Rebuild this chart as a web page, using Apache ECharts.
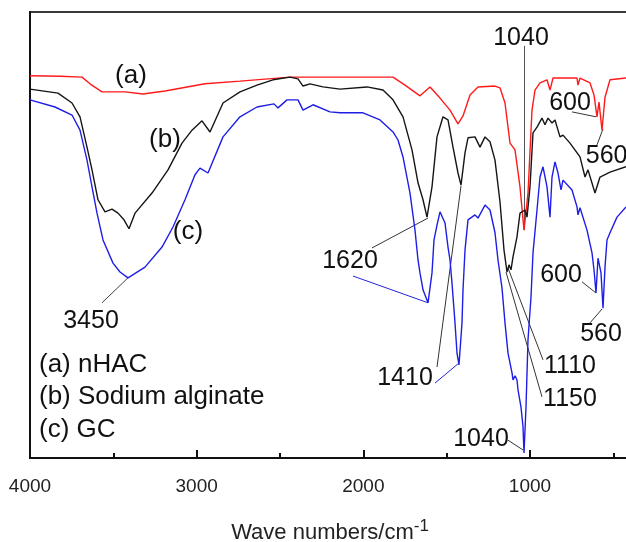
<!DOCTYPE html>
<html>
<head>
<meta charset="utf-8">
<title>FTIR spectra</title>
<script src="https://cdn.jsdelivr.net/npm/echarts@6/dist/echarts.min.js"></script>
<style>
  html, body { margin: 0; padding: 0; background: #fff; }
  #chart { width: 626px; height: 542px; }
</style>
</head>
<body>
<div id="chart"></div>
<script>
// (a) nHAC
const waveA = [4000,3820,3688,3640,3568,3430,3322,3190,2950,2740,
  2440,2140,1822,1750,1660,1600,1540,1480,1432,1402,
  1360,1312,1210,1180,1150,1120,1090,1060,1036,1012,
  988,970,940,898,880,862,718,712,700,640,
  616,598,586,568,550,520,424];
const transA = [85.7,85.6,85.4,83.9,82.1,82.1,81.6,82.3,83.9,84.5,
  85.4,85.4,85.4,83.6,81.2,83.2,80.7,78.0,74.9,76.7,
  81.4,83.2,83.4,83.0,79.6,70.6,69.1,60.8,51.1,59.4,
  78.0,82.5,84.1,84.8,82.5,85.2,85.2,83.6,85.2,84.1,
  81.4,76.5,79.8,73.5,80.9,84.8,85.2];

// (b) Sodium alginate
const waveB = [4000,3832,3748,3700,3658,3628,3592,3550,3508,3472,
  3436,3406,3370,3268,3172,3088,3028,2968,2920,2842,
  2740,2638,2542,2440,2392,2362,2320,2242,2140,1978,
  1882,1822,1762,1708,1672,1642,1618,1588,1558,1522,
  1492,1462,1432,1414,1390,1372,1330,1300,1270,1240,
  1210,1180,1156,1138,1126,1114,1102,1078,1060,1030,
  1018,1000,982,958,928,910,892,868,850,820,
  802,760,700,670,652,610,580,520,424];
const transB = [82.7,81.8,79.6,76.5,69.7,64.6,57.9,55.2,55.8,54.9,
  53.4,51.4,54.9,59.4,64.6,70.6,73.5,75.6,73.1,79.6,
  82.1,83.6,84.8,85.4,85.0,83.4,83.9,83.2,82.7,83.2,
  82.5,80.3,76.5,69.1,61.7,57.9,54.0,60.8,72.0,76.5,
  75.8,69.7,63.9,61.2,68.4,71.8,72.0,69.7,72.0,70.9,
  66.8,57.4,46.6,41.7,43.3,42.2,45.1,49.6,54.9,55.6,
  54.0,60.8,72.9,74.2,76.2,74.7,76.2,75.1,75.8,72.0,
  72.4,70.6,67.5,63.0,64.6,59.4,63.0,64.1,65.3];

// (c) GC
const waveC = [4000,3850,3748,3700,3658,3628,3598,3562,3502,3460,
  3412,3310,3208,3142,3070,3010,2980,2932,2842,2740,
  2638,2536,2512,2458,2392,2362,2302,2200,2140,2002,
  1900,1822,1792,1762,1720,1690,1672,1660,1642,1612,
  1588,1576,1558,1540,1510,1492,1480,1468,1450,1438,
  1426,1408,1402,1390,1372,1330,1312,1270,1240,1210,
  1192,1168,1150,1132,1108,1102,1090,1078,1072,1054,
  1042,1036,1024,1012,994,982,958,940,922,898,
  880,868,850,832,814,802,748,718,712,700,
  658,628,616,604,592,574,562,550,538,520,
  478,424];
const transC = [80.3,78.7,76.9,73.5,66.8,60.8,54.9,48.9,43.7,41.7,
  40.4,42.8,47.3,51.8,57.9,63.5,65.0,63.9,72.0,76.5,
  78.7,79.4,78.5,80.3,80.3,78.0,79.2,77.6,77.4,77.4,
  75.8,73.1,71.3,67.5,59.4,51.1,44.4,41.5,37.7,34.8,
  41.5,48.9,52.2,55.2,52.7,47.3,44.4,39.2,30.3,23.5,
  20.9,30.3,37.7,46.6,53.4,54.5,53.8,56.7,55.6,50.5,
  44.4,38.1,30.3,23.5,19.1,17.5,18.4,17.5,15.3,11.4,
  7.0,1.1,11.4,26.5,36.1,46.0,55.6,63.0,65.3,60.8,
  54.0,63.0,66.4,63.9,60.1,62.3,60.1,56.3,54.5,56.1,
  51.1,46.0,42.2,37.0,44.8,41.5,33.6,42.8,48.9,50.5,
  54.0,56.3];

const majorTicks = [4000, 3000, 2000, 1000];
const minorTicks = [3500, 2500, 1500, 500];

// peak labels, placed in data units (wave number, transmittance)
const noteText = ['(a)', '(b)', '(c)', '3450', '1620', '1410', '1110', '1150', '1040', '1040', '600', '560', '600', '560'];
const noteWave = [3394, 3190, 3052, 3634, 2080, 1750, 760, 760, 1054, 1294, 760, 540, 814, 574];
const noteT = [85.6, 71.3, 50.7, 30.7, 44.2, 17.9, 20.6, 13.2, 94.2, 4.3, 79.6, 67.7, 41.0, 27.8];

const legendText = ['(a) nHAC', '(b) Sodium alginate', '(c) GC'];
const legendT = [20.9, 13.7, 6.3];

// leader lines: [wave1, t1, wave2, t2, colour]
const leaders = [
  [3412, 40.4, 3568, 34.8, '#444'],
  [1948, 47.1, 1612, 53.8, '#333'],
  [2062, 40.8, 1612, 34.8, '#2222dd'],
  [1558, 20.4, 1414, 61.0, '#333'],
  [1570, 16.8, 1426, 21.3, '#2222dd'],
  [922, 22.0, 1132, 42.6, '#333'],
  [928, 13.7, 1144, 41.7, '#333'],
  [1036, 92.4, 1036, 51.1, '#555'],
  [1132, 4.0, 1042, 1.8, '#333'],
  [748, 77.6, 604, 76.5, '#333'],
  [598, 70.2, 562, 73.8, '#333'],
  [688, 39.5, 604, 37.0, '#333'],
  [640, 30.3, 568, 33.4, '#333']
];

const font = 'Liberation Sans, Arial, sans-serif';
const zip = (xs, ys) => xs.map((x, i) => [x, ys[i]]);

const chart = echarts.init(document.getElementById('chart'));

const textData = noteText.map((t, i) => ({
  name: t,
  value: [noteWave[i], noteT[i]],
  label: { fontSize: t.charAt(0) === '(' ? 26 : 25 }
}));
legendText.forEach((t, i) => {
  textData.push({
    name: t,
    value: [3946, legendT[i]],
    label: { fontSize: 26, align: 'left' }
  });
});

const option = {
  animation: false,
  grid: {
    left: 30, right: -4, top: 12, bottom: 84,
    outerBoundsMode: 'none',
    containLabel: false,
    show: true, borderColor: '#3a3a3a', borderWidth: 2
  },
  xAxis: [{
    type: 'value',
    min: 400,
    max: 4000,
    inverse: true,
    position: 'bottom',
    axisLine: { show: true, onZero: false, lineStyle: { color: '#111', width: 2 } },
    axisTick: { show: true, inside: true, length: 8, customValues: majorTicks, lineStyle: { color: '#111', width: 2 } },
    axisLabel: {
      customValues: majorTicks, showMinLabel: true, showMaxLabel: true,
      formatter: v => String(v),
      margin: 19, fontSize: 19, color: '#222', fontFamily: font
    },
    splitLine: { show: false },
    name: 'Wave numbers/cm{sup|-1}',
    nameLocation: 'middle',
    nameGap: 60,
    nameTextStyle: {
      fontSize: 22, color: '#222', fontFamily: font,
      rich: { sup: { fontSize: 17, color: '#222', fontFamily: font, verticalAlign: 'top', padding: [0, 0, 12, 0] } }
    }
  }, {
    type: 'value',
    min: 400,
    max: 4000,
    inverse: true,
    position: 'bottom',
    axisLine: { show: false },
    axisTick: { show: true, inside: true, length: 5, customValues: minorTicks, lineStyle: { color: '#111', width: 2 } },
    axisLabel: { show: false },
    splitLine: { show: false }
  }],
  yAxis: {
    type: 'value',
    min: 0,
    max: 100,
    axisLine: { show: true, onZero: false, lineStyle: { color: '#111', width: 2 } },
    axisTick: { show: false },
    axisLabel: { show: false },
    splitLine: { show: false }
  },
  series: [
    {
      name: '(a) nHAC', type: 'line', data: zip(waveA, transA),
      showSymbol: false, lineStyle: { color: '#ff1a1a', width: 1.4 }, silent: true
    },
    {
      name: '(b) Sodium alginate', type: 'line', data: zip(waveB, transB),
      showSymbol: false, lineStyle: { color: '#151515', width: 1.4 }, silent: true
    },
    {
      name: '(c) GC', type: 'line', data: zip(waveC, transC),
      showSymbol: false, lineStyle: { color: '#1e1ee6', width: 1.4 }, silent: true
    },
    {
      type: 'lines',
      coordinateSystem: 'cartesian2d',
      silent: true,
      lineStyle: { width: 1, opacity: 1 },
      data: leaders.map(l => ({ coords: [[l[0], l[1]], [l[2], l[3]]], lineStyle: { color: l[4] } }))
    },
    {
      type: 'scatter',
      symbolSize: 1,
      silent: true,
      itemStyle: { color: 'rgba(0,0,0,0)', opacity: 1 },
      label: {
        show: true, position: 'inside', formatter: '{b}',
        color: '#111', opacity: 1, fontFamily: font
      },
      data: textData
    }
  ]
};

chart.setOption(option);
</script>
</body>
</html>
